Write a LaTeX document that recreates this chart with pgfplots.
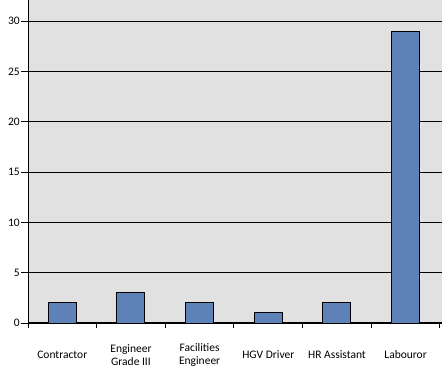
\documentclass[border=0pt]{standalone}
\usepackage{pgfplots}
\pgfplotsset{compat=1.18}
\usepackage{fontspec}
\setmainfont{Carlito}
\definecolor{bg}{RGB}{225,225,225}
\definecolor{barblue}{RGB}{94,129,183}
\begin{document}
\begin{tikzpicture}[x=1bp,y=1bp]
\useasboundingbox (0,0) rectangle (442,382);
\begin{axis}[
  at={(28bp,59bp)}, anchor=south west,
  width=414bp, height=323bp, scale only axis,
  xmin=-0.5, xmax=5.53, ymin=0, ymax=32.1,
  axis lines*=left,
  x axis line style={line width=2bp},
  y axis line style={line width=1bp},
  axis background/.style={fill=bg},
  ybar, bar width=28bp,
  xtick={0,...,5},
  xticklabels={Contractor,{Engineer\\Grade III},{Facilities\\Engineer},HGV Driver,HR Assistant,Labouror},
  major x tick style={draw=none},
  minor xtick={-0.5,0.5,...,5.5},
  minor x tick style={line width=1bp, black},
  minor tick length=5bp,
  tick align=outside,
  ytick={0,5,...,30},
  major tick length=7bp,
  y tick style={line width=1bp, black},
  ymajorgrids,
  grid style={black, line width=1bp},
  /pgf/number format/assume math mode=true,
  tick label style={font=\fontsize{11.5bp}{13bp}\selectfont, text=black},
  xticklabel style={align=center, anchor=center, yshift=-25bp},
  yticklabel style={anchor=east, inner xsep=1bp},
]
\addplot[fill=barblue, draw=black, line width=1bp] coordinates {(0,2) (1,3) (2,2) (3,1) (4,2) (5,29)};
\end{axis}
\end{tikzpicture}
\end{document}
